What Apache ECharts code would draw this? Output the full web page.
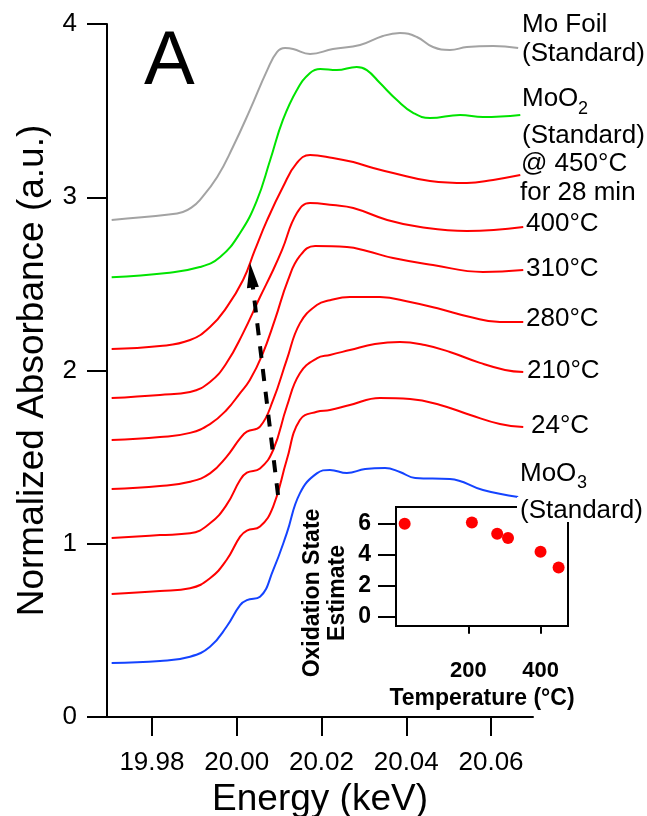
<!DOCTYPE html>
<html>
<head>
<meta charset="utf-8">
<title>Mo K-edge XANES</title>
<script src="https://cdn.jsdelivr.net/npm/echarts@6/dist/echarts.min.js"></script>
<style>
  html, body { margin: 0; padding: 0; background: #fff; }
  #chart { width: 647px; height: 816px; }
</style>
</head>
<body>
<div id="chart"></div>
<script>
const FONT = "'Liberation Sans', Arial, sans-serif";

// spectra, [energy (keV), normalized absorbance with stacking offset]
const moFoil = [[19.9705,2.869],[19.9840,2.900],[19.9873,2.915],[19.9893,2.940],[19.9913,2.984],[19.9954,3.117],[19.9991,3.290],[20.0031,3.503],[20.0072,3.734],[20.0095,3.838],[20.0114,3.861],[20.0133,3.856],[20.0173,3.827],[20.0227,3.856],[20.0291,3.879],[20.0345,3.931],[20.0385,3.948],[20.0425,3.925],[20.0463,3.867],[20.0503,3.850],[20.0543,3.867],[20.0605,3.873],[20.0664,3.861]];
const moO2 = [[19.9705,2.538],[19.9835,2.563],[19.9913,2.597],[19.9961,2.655],[20.0008,2.794],[20.0047,2.978],[20.0079,3.215],[20.0109,3.446],[20.0142,3.619],[20.0173,3.717],[20.0197,3.740],[20.0236,3.734],[20.0283,3.752],[20.0307,3.734],[20.0338,3.659],[20.0378,3.561],[20.0417,3.486],[20.0456,3.457],[20.0527,3.475],[20.0581,3.463],[20.0669,3.475]];
const t450 = [[19.9705,2.124],[19.9819,2.141],[19.9890,2.176],[19.9937,2.251],[19.9977,2.367],[20.0015,2.522],[20.0043,2.696],[20.0072,2.869],[20.0109,3.059],[20.0142,3.198],[20.0173,3.244],[20.0227,3.227],[20.0275,3.203],[20.0322,3.169],[20.0369,3.140],[20.0456,3.094],[20.0543,3.082],[20.0605,3.100],[20.0669,3.128]];
const t400 = [[19.9705,1.841],[19.9819,1.859],[19.9890,1.876],[19.9937,1.934],[19.9976,2.043],[20.0015,2.216],[20.0055,2.424],[20.0086,2.580],[20.0107,2.696],[20.0142,2.909],[20.0173,2.967],[20.0227,2.955],[20.0275,2.938],[20.0355,2.869],[20.0433,2.828],[20.0543,2.805],[20.0676,2.828]];
const t310 = [[19.9705,1.599],[19.9819,1.616],[19.9890,1.640],[19.9937,1.691],[19.9976,1.772],[20.0008,1.870],[20.0031,1.945],[20.0060,2.089],[20.0090,2.292],[20.0121,2.522],[20.0149,2.661],[20.0185,2.719],[20.0260,2.713],[20.0307,2.690],[20.0369,2.649],[20.0463,2.609],[20.0581,2.569],[20.0676,2.580]];
const t280 = [[19.9705,1.316],[19.9819,1.333],[19.9890,1.358],[19.9937,1.406],[19.9976,1.502],[20.0008,1.608],[20.0024,1.647],[20.0055,1.676],[20.0086,1.830],[20.0118,2.061],[20.0149,2.272],[20.0189,2.378],[20.0220,2.406],[20.0267,2.424],[20.0338,2.424],[20.0409,2.395],[20.0480,2.355],[20.0551,2.309],[20.0621,2.280],[20.0676,2.280]];
const t210 = [[19.9705,1.033],[19.9819,1.050],[19.9890,1.060],[19.9937,1.118],[19.9976,1.224],[20.0008,1.368],[20.0024,1.410],[20.0055,1.435],[20.0086,1.541],[20.0118,1.791],[20.0149,1.984],[20.0189,2.070],[20.0220,2.090],[20.0267,2.118],[20.0326,2.153],[20.0385,2.165],[20.0444,2.147],[20.0503,2.107],[20.0574,2.044],[20.0633,2.003],[20.0676,1.991]];
const t24 = [[19.9705,0.710],[19.9819,0.727],[19.9890,0.743],[19.9937,0.801],[19.9976,0.906],[20.0008,1.041],[20.0024,1.076],[20.0055,1.099],[20.0086,1.214],[20.0118,1.483],[20.0149,1.714],[20.0189,1.762],[20.0220,1.772],[20.0267,1.801],[20.0338,1.841],[20.0409,1.835],[20.0480,1.801],[20.0551,1.743],[20.0621,1.691],[20.0676,1.674]];
const moO3 = [[19.9705,0.312],[19.9819,0.323],[19.9890,0.348],[19.9937,0.406],[19.9976,0.521],[20.0008,0.646],[20.0024,0.675],[20.0055,0.694],[20.0086,0.848],[20.0118,1.060],[20.0149,1.291],[20.0189,1.406],[20.0220,1.426],[20.0260,1.408],[20.0303,1.431],[20.0350,1.437],[20.0385,1.414],[20.0421,1.380],[20.0503,1.374],[20.0581,1.310],[20.0664,1.270]];

const energyTicks = [19.98, 20.00, 20.02, 20.04, 20.06];

// inset: oxidation state vs temperature
const temps = [24, 210, 280, 310, 400, 450];
const oxState = [6.02, 6.10, 5.37, 5.09, 4.20, 3.18];
const tempMajor = [200, 400];
const tempMinor = [100, 300];
const oxMajor = [0, 2, 4, 6];
const oxMinor = [1, 3, 5];

// dashed arrow showing the edge shift (start -> arrow head)
const arrowPath = [[20.00975, 1.281], [20.00347, 2.551]];

const curves = [
  { name: 'Mo Foil', data: moFoil, color: '#a3a3a3' },
  { name: 'MoO2', data: moO2, color: '#00e400' },
  { name: '450', data: t450, color: '#ff0000' },
  { name: '400', data: t400, color: '#ff0000' },
  { name: '310', data: t310, color: '#ff0000' },
  { name: '280', data: t280, color: '#ff0000' },
  { name: '210', data: t210, color: '#ff0000' },
  { name: '24', data: t24, color: '#ff0000' },
  { name: 'MoO3', data: moO3, color: '#1443ff' }
];

let chart = echarts.init(document.getElementById('chart'));

const txt = (text, x, y, size, extra) => ({
  type: 'text', x: x, y: y, z: 100,
  style: Object.assign({
    text: text, fill: '#000', fontSize: size, fontFamily: FONT,
    textAlign: 'left', textVerticalAlign: 'middle', verticalAlign: 'middle'
  }, extra || {})
});

const black = { color: '#000', width: 2 };

let series = curves.map(c => ({
  name: c.name,
  type: 'line',
  xAxisIndex: 0,
  yAxisIndex: 0,
  data: c.data,
  smooth: 0.45,
  showSymbol: false,
  lineStyle: { color: c.color, width: 2 },
  itemStyle: { color: c.color },
  z: 3
}));

series[series.length - 1].markLine = {
  silent: true,
  symbol: ['none', 'triangle'],
  symbolSize: [12, 25],
  label: { show: false },
  lineStyle: { color: '#000', width: 4, type: [12, 11] },
  data: [[{ coord: arrowPath[0] }, { coord: arrowPath[1] }]]
};

series.push({
  type: 'scatter',
  xAxisIndex: 1,
  yAxisIndex: 1,
  data: temps.map((t, i) => [t, oxState[i]]),
  symbolSize: 12,
  itemStyle: { color: '#ff0000', opacity: 1 },
  z: 5
});

let option = {
  animation: false,
  backgroundColor: '#fff',
  textStyle: { fontFamily: FONT, color: '#000' },
  grid: [
    { left: 107, right: 114, top: 24, bottom: 99, outerBoundsMode: 'none', containLabel: false },
    { left: 396, top: 507, width: 172, height: 119, show: true, outerBoundsMode: 'none',
      containLabel: false, borderColor: '#000', borderWidth: 2, backgroundColor: '#fff', z: 4 }
  ],
  xAxis: [
    {
      type: 'value', gridIndex: 0, min: 19.9694, max: 20.0699,
      axisLine: { show: true, lineStyle: black },
      axisTick: { show: true, length: 19, lineStyle: black, customValues: energyTicks },
      axisLabel: { customValues: energyTicks, formatter: v => v.toFixed(2),
        fontSize: 26, color: '#000', margin: 33 },
      splitLine: { show: false },
      name: 'Energy (keV)', nameLocation: 'middle', nameGap: 59,
      nameTextStyle: { fontSize: 37, color: '#000' }
    },
    {
      type: 'value', gridIndex: 1, min: 0, max: 476,
      axisLine: { show: true, lineStyle: black },
      axisTick: { show: true, length: 17, lineStyle: black, customValues: tempMajor },
      axisLabel: { customValues: tempMajor, fontSize: 22, fontWeight: 'bold', color: '#000', margin: 34 },
      splitLine: { show: false },
      name: 'Temperature (°C)', nameLocation: 'middle', nameGap: 61,
      nameTextStyle: { fontSize: 23, fontWeight: 'bold', color: '#000' }
    },
    {
      type: 'value', gridIndex: 1, min: 0, max: 476,
      axisLine: { show: false },
      axisTick: { show: true, length: 9, lineStyle: black, customValues: tempMinor },
      axisLabel: { show: false },
      splitLine: { show: false }
    }
  ],
  yAxis: [
    {
      type: 'value', gridIndex: 0, min: 0, max: 4, interval: 1,
      axisLine: { show: true, lineStyle: black },
      axisTick: { show: true, length: 20, lineStyle: black },
      axisLabel: { fontSize: 26, color: '#000', margin: 30 },
      splitLine: { show: false },
      name: 'Normalized Absorbance (a.u.)', nameLocation: 'middle', nameGap: 54,
      nameTextStyle: { fontSize: 37, color: '#000' }
    },
    {
      type: 'value', gridIndex: 1, min: -0.6, max: 7.1,
      axisLine: { show: true, lineStyle: black },
      axisTick: { show: true, length: 18, lineStyle: black, customValues: oxMajor },
      axisLabel: { customValues: oxMajor, fontSize: 23, fontWeight: 'bold', color: '#000', margin: 25 },
      splitLine: { show: false }
    },
    {
      type: 'value', gridIndex: 1, min: -0.6, max: 7.1,
      axisLine: { show: false },
      axisTick: { show: true, length: 9, lineStyle: black, customValues: oxMinor },
      axisLabel: { show: false },
      splitLine: { show: false }
    }
  ],
  graphic: [
    { type: 'line', shape: { x1: 87, y1: 717, x2: 108, y2: 717 }, style: { stroke: '#000', lineWidth: 2 } },
    txt('A', 144, 63, 76),
    txt('Oxidation State\nEstimate', 0, 0, 23, { fontWeight: 'bold', textAlign: 'center', lineHeight: 25 }),
    txt('Mo Foil', 522, 25, 26),
    txt('(Standard)', 522, 54, 26),
    txt('MoO', 522, 99, 26),
    txt('2', 578, 109, 18),
    txt('(Standard)', 522, 136, 26),
    txt('@ 450°C', 521, 164, 26),
    txt('for 28 min', 520, 193, 26),
    txt('400°C', 526, 224, 26),
    txt('310°C', 526, 269, 26),
    txt('280°C', 526, 319, 26),
    txt('210°C', 527, 371, 26),
    txt('24°C', 531, 426, 26),
    txt('MoO', 520, 474, 26),
    txt('3', 577, 483, 18),
    { type: 'rect', z: 99, shape: { x: 517, y: 497, width: 130, height: 25 }, style: { fill: '#fff' } },
    txt('(Standard)', 520, 511, 26)
  ],
  series: series
};

// rotated inset y title
let oxTitle = option.graphic[2];
oxTitle.x = 325;
oxTitle.y = 593;
oxTitle.rotation = Math.PI / 2;

chart.setOption(option);
</script>
</body>
</html>
